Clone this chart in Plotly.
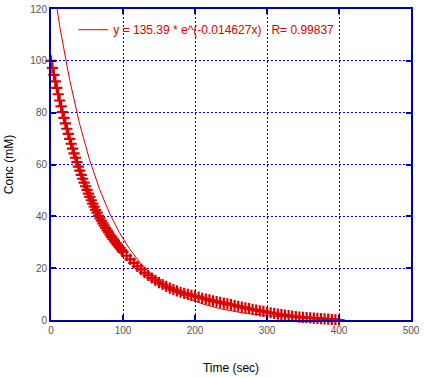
import numpy as np
import plotly.graph_objects as go

time_early = list(range(0, 101, 2))
conc_early = [100.0, 97.3, 94.6, 92.1, 89.6, 87.1, 84.7, 82.4, 80.2, 78.0,
              75.9, 73.8, 71.8, 69.9, 68.0, 66.1, 64.3, 62.6, 60.9, 59.2,
              57.6, 56.0, 54.5, 53.0, 51.6, 50.2, 48.8, 47.5, 46.2, 44.9,
              43.7, 42.5, 41.4, 40.2, 39.2, 38.3, 37.3, 36.4, 35.5, 34.6,
              33.8, 32.9, 32.1, 31.3, 30.6, 29.8, 29.1, 28.4, 27.7, 27.0,
              26.3]
time_late = list(range(105, 401, 5))
conc_late = [24.8, 23.4, 22.0, 20.7, 19.5, 18.3, 17.2, 16.2, 15.3, 14.4,
             13.7, 13.0, 12.3, 11.7, 11.2, 10.7, 10.3, 9.9, 9.5, 9.2,
             8.8, 8.4, 8.1, 7.8, 7.4, 7.1, 6.8, 6.5, 6.2, 5.9,
             5.6, 5.3, 5.0, 4.7, 4.4, 4.1, 3.8, 3.5, 3.3, 3.0,
             2.8, 2.5, 2.3, 2.1, 1.9, 1.7, 1.5, 1.3, 1.1, 1.0,
             0.9, 0.8, 0.7, 0.6, 0.5, 0.4, 0.3, 0.2, 0.1, 0.0]
time_sec = time_early + time_late
conc_mM = conc_early + conc_late

# Fit parameters shown in the legend
fit_A = 135.39
fit_k = 0.014627
fit_R = 0.99837
fit_t = np.linspace(0, 400, 401)
fit_c = fit_A * np.exp(-fit_k * fit_t)

x_ticks = [0, 100, 200, 300, 400, 500]
y_ticks = [0, 20, 40, 60, 80, 100, 120]

RED = "#DD0000"
AXIS_BLUE = "#0000AA"
GRID_BLUE = "#0000EE"
FONT = "Liberation Sans, Arial"

fig = go.Figure()
fig.add_trace(go.Scatter(
    x=time_sec, y=conc_mM, mode="markers", showlegend=False,
    marker=dict(symbol="cross-thin", size=8, line=dict(width=2.2, color=RED), color=RED),
    cliponaxis=False,
))
fig.add_trace(go.Scatter(
    x=fit_t, y=fit_c, mode="lines",
    name=f"y = {fit_A} * e^(-{fit_k}x)   R= {fit_R}",
    line=dict(color=RED, width=1),
))

axis_common = dict(
    showline=True, linecolor=AXIS_BLUE, linewidth=2, mirror="ticks",
    ticks="inside", ticklen=5, tickcolor=AXIS_BLUE, tickwidth=1.5,
    showgrid=True, gridcolor=GRID_BLUE, gridwidth=1, griddash="2px,2px",
    zeroline=False,
    tickfont=dict(family=FONT, size=10, color="#555555"),
)

fig.update_xaxes(range=[0, 500], tickvals=x_ticks, **axis_common,
                 title=dict(text="Time (sec)", standoff=29,
                            font=dict(family=FONT, size=12, color="black")))
fig.update_yaxes(range=[0, 120], tickvals=y_ticks, **axis_common,
                 title=dict(text="Conc (mM)", standoff=14,
                            font=dict(family=FONT, size=12, color="black")))

fig.update_layout(
    width=424, height=378,
    margin=dict(l=51, r=13, t=9, b=58, autoexpand=False),
    paper_bgcolor="white", plot_bgcolor="white",
    legend=dict(x=0.062, y=0.98, xanchor="left", yanchor="top",
                bgcolor="rgba(0,0,0,0)", borderwidth=0,
                font=dict(family=FONT, size=12, color=RED)),
)

fig.write_html("out.html", config={"displayModeBar": False},
               post_script="document.body.style.margin='0px';")
